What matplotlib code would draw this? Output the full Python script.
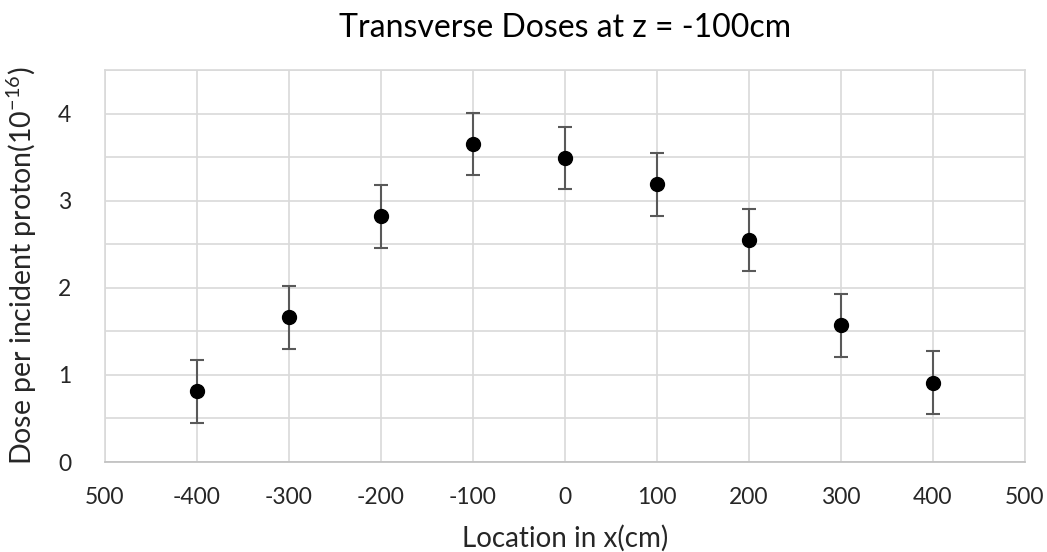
import matplotlib
matplotlib.use("Agg")
import matplotlib.pyplot as plt
from matplotlib.ticker import MultipleLocator

plt.rcParams['font.family'] = ['Lato', 'DejaVu Sans']
plt.rcParams['mathtext.default'] = 'regular'

# Data
x_loc = [-400, -300, -200, -100, 0, 100, 200, 300, 400]
dose = [0.81, 1.66, 2.82, 3.65, 3.49, 3.19, 2.55, 1.57, 0.91]
dose_err = [0.36, 0.36, 0.36, 0.36, 0.36, 0.36, 0.36, 0.36, 0.36]
x_ticks = [-500, -400, -300, -200, -100, 0, 100, 200, 300, 400, 500]
x_tick_labels = ['500', '-400', '-300', '-200', '-100', '0', '100', '200', '300', '400', '500']
y_ticks = [0, 1, 2, 3, 4]

fig = plt.figure(figsize=(10.47, 5.52), dpi=100)
ax = fig.add_axes([0.1, 0.163, 0.879, 0.71])

ax.errorbar(x_loc, dose, yerr=dose_err, fmt='o', color='black', markersize=10,
            ecolor='#595959', elinewidth=1.5, capsize=5, capthick=1.5, zorder=3)

ax.set_xlim(-500, 500)
ax.set_ylim(0, 4.5)
ax.set_xticks(x_ticks)
ax.set_xticklabels(x_tick_labels)
ax.set_yticks(y_ticks)
ax.yaxis.set_minor_locator(MultipleLocator(0.5))

ax.grid(True, which='major', color='#d9d9d9', linewidth=1.2)
ax.grid(True, which='minor', axis='y', color='#d9d9d9', linewidth=1.2)
ax.set_axisbelow(True)
ax.tick_params(which='both', length=0, labelsize=16.5, colors='#262626', pad=18)
ax.tick_params(axis='y', pad=24)
for s in ax.spines.values():
    s.set_color('#d9d9d9')
    s.set_linewidth(1.2)
ax.spines['bottom'].set_color('#bfbfbf')

ax.set_title('Transverse Doses at z = -100cm', fontsize=23, pad=24, color='black')
ax.set_xlabel('Location in x(cm)', fontsize=20, labelpad=12, color='#262626')
ax.set_ylabel('Dose per incident proton(10$^{-16}$)', fontsize=20.5, labelpad=14, color='#262626')

fig.savefig('out.png', dpi=100, facecolor='white')
